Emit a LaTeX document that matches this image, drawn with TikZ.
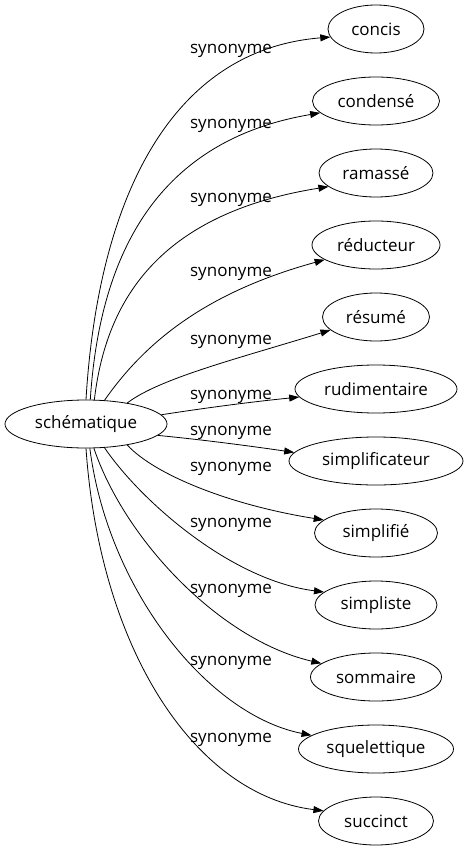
\documentclass[tikz,border=0pt]{standalone}
\usepackage{fontspec}
\setmainfont{Open Sans}
\usetikzlibrary{arrows.meta,shapes.geometric}
\begin{document}
\begin{tikzpicture}[x=1pt,y=-1pt,
  every node/.style={font=\fontsize{17}{20}\selectfont, text=black},
  word/.style={draw, ellipse, inner sep=0pt, minimum height=48pt, line width=0.8pt},
  rel/.style={anchor=base},
  link/.style={draw, line width=0.8pt, -{Triangle[length=10pt,width=7pt]}}]
\useasboundingbox (0,0) rectangle (468,851);
\node[word, minimum width=162pt] (src) at (86,424) {schématique};
\node[word, minimum width=96pt]  (n1)  at (376,29)  {concis};
\node[word, minimum width=127pt] (n2)  at (376,101) {condensé};
\node[word, minimum width=114pt] (n3)  at (376,173) {ramassé};
\node[word, minimum width=128pt] (n4)  at (376,245) {réducteur};
\node[word, minimum width=107pt] (n5)  at (376,317) {résumé};
\node[word, minimum width=162pt] (n6)  at (376,389) {rudimentaire};
\node[word, minimum width=174pt] (n7)  at (376,461) {simplificateur};
\node[word, minimum width=123pt] (n8)  at (376,533) {simplifié};
\node[word, minimum width=122pt] (n9)  at (376,605) {simpliste};
\node[word, minimum width=131pt] (n10) at (376,677) {sommaire};
\node[word, minimum width=155pt] (n11) at (376,749) {squelettique};
\node[word, minimum width=115pt] (n12) at (376,821) {succinct};
\path[link] (src.90)   .. controls (98,200)  and (170,50)  .. (n1.190);
\path[link] (src.80.5) .. controls (100,250) and (160,140) .. (n2.192);
\path[link] (src.71.5) .. controls (105,310) and (150,215) .. (n3.196);
\path[link] (src.52)   .. controls (150,335) and (215,290) .. (n4.196);
\path[link] (src.27)   .. controls (160,378) and (240,358) .. (n5.196);
\path[link] (src.7.5)  .. controls (205,408) and (250,402) .. (n6.186);
\path[link] (src.351)  .. controls (205,440) and (250,446) .. (n7.174);
\path[link] (src.333)  .. controls (155,475) and (230,505) .. (n8.166);
\path[link] (src.308)  .. controls (140,500) and (230,580) .. (n9.166);
\path[link] (src.288.5).. controls (125,540) and (220,640) .. (n10.166);
\path[link] (src.279.5).. controls (108,590) and (208,715) .. (n11.168);
\path[link] (src.270)  .. controls (100,650) and (195,795) .. (n12.169);
\node[rel] (l1)  at (231,54)  {synonyme};
\node[rel] (l2)  at (231,128) {synonyme};
\node[rel] (l3)  at (231,202) {synonyme};
\node[rel] (l4)  at (231,276) {synonyme};
\node[rel] (l5)  at (231,344) {synonyme};
\node[rel] (l6)  at (231,399) {synonyme};
\node[rel] (l7)  at (231,435) {synonyme};
\node[rel] (l8)  at (231,471) {synonyme};
\node[rel] (l9)  at (231,527) {synonyme};
\node[rel] (l10) at (231,593) {synonyme};
\node[rel] (l11) at (231,665) {synonyme};
\node[rel] (l12) at (231,742) {synonyme};
\end{tikzpicture}
\end{document}
